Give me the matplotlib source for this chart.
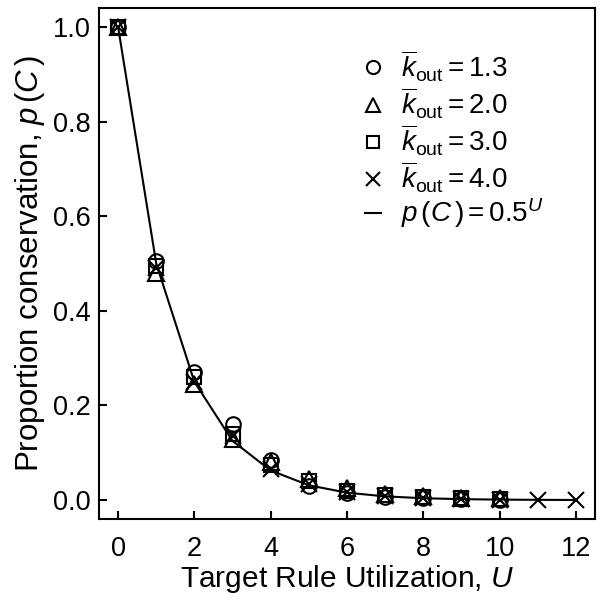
import matplotlib
matplotlib.use("Agg")
import matplotlib.pyplot as plt

plt.rcParams['font.family'] = ['Liberation Sans', 'DejaVu Sans']
plt.rcParams['mathtext.fontset'] = 'custom'
plt.rcParams['mathtext.rm'] = 'Liberation Sans'
plt.rcParams['mathtext.it'] = 'Liberation Sans:italic'

# Place for data
U = [0, 1, 2, 3, 4, 5, 6, 7, 8, 9, 10]
U4 = [0, 1, 2, 3, 4, 5, 6, 7, 8, 9, 10, 11, 12]
k13 = [1.0, 0.506, 0.27, 0.16, 0.085, 0.03, 0.015, 0.007, 0.004, 0.002, 0.001]
k20 = [1.0, 0.48, 0.245, 0.13, 0.08, 0.045, 0.025, 0.013, 0.008, 0.005, 0.004]
k30 = [1.0, 0.495, 0.26, 0.14, 0.075, 0.04, 0.02, 0.01, 0.006, 0.004, 0.002]
k40 = [1.0, 0.49, 0.25, 0.135, 0.065, 0.035, 0.018, 0.008, 0.004, 0.002, 0.001, 0.0005, 0.0002]
fitU = [0, 1, 2, 3, 4, 5, 6, 7, 8, 9, 10, 11, 12]
fit = [1.0, 0.5, 0.25, 0.125, 0.0625, 0.03125, 0.015625, 0.0078125,
       0.00390625, 0.001953125, 0.0009765625, 0.00048828125, 0.000244140625]

fig = plt.figure(figsize=(6.04, 6.04), dpi=100)
ax = fig.add_axes([99 / 604, 85 / 604, 496 / 604, 511 / 604])

ms = 10.5
ax.plot(fitU, fit, "-k", lw=1.5, label=r"$p\,(C\,) = 0.5^U$")
ax.plot(U, k13, "o", mfc="none", mec="k", ms=ms, mew=1.5, ls="none", label=r"$\overline{k}_{\rm out} = 1.3$")
ax.plot(U, k20, "^", mfc="none", mec="k", ms=ms + 1, mew=1.5, ls="none", label=r"$\overline{k}_{\rm out} = 2.0$")
ax.plot(U, k30, "s", mfc="none", mec="k", ms=ms - 1, mew=1.5, ls="none", label=r"$\overline{k}_{\rm out} = 3.0$")
ax.plot(U4, k40, "x", mfc="none", mec="k", ms=ms + 1, mew=1.5, ls="none", label=r"$\overline{k}_{\rm out} = 4.0$")

handles, labels = ax.get_legend_handles_labels()
order = [1, 2, 3, 4, 0]
ax.legend([handles[i] for i in order], [labels[i] for i in order],
          loc="upper left", bbox_to_anchor=(0.485, 0.97), frameon=False,
          fontsize=20, handlelength=0.6, handletextpad=0.7, labelspacing=0.06,
          markerscale=0.9)

ax.set_xlim(-0.5, 12.5)
ax.set_ylim(-0.04, 1.04)
ax.set_xticks(range(0, 13, 2))
ax.set_yticks([0.0, 0.2, 0.4, 0.6, 0.8, 1.0])
ax.set_yticklabels(["0.0", "0.2", "0.4", "0.6", "0.8", "1.0"])
ax.tick_params(direction="in", length=6, width=1.5, labelsize=19.5)
ax.tick_params(axis="x", pad=12)
ax.tick_params(axis="y", pad=6)
for s in ax.spines.values():
    s.set_linewidth(1.5)

ax.set_xlabel(r"Target Rule Utilization, $U$", fontsize=21.5, labelpad=1)
ax.set_ylabel(r"Proportion conservation, $p\,(C\,)$", fontsize=22.5, labelpad=4)

fig.savefig("out.png", dpi=100)
